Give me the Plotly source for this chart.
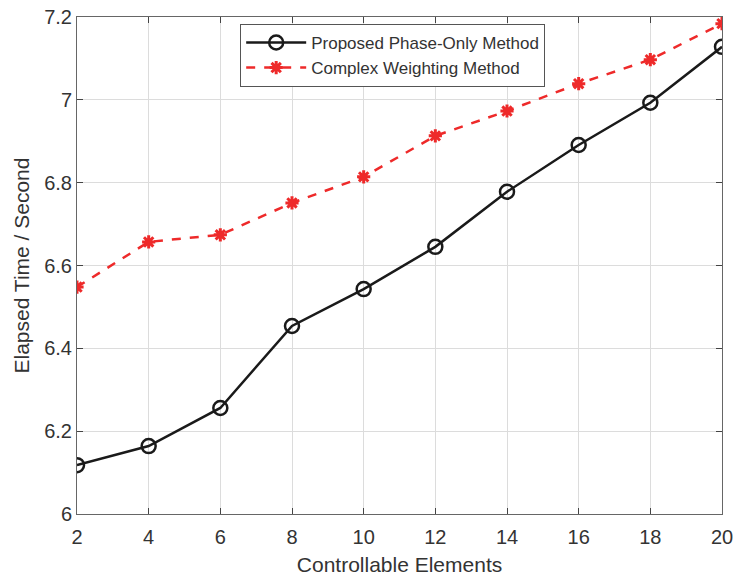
import plotly.graph_objects as go

elements = [2, 4, 6, 8, 10, 12, 14, 16, 18, 20]
phase_only = [6.118, 6.164, 6.256, 6.454, 6.543, 6.645, 6.778, 6.891, 6.993, 7.128]
complex_w = [6.548, 6.657, 6.674, 6.751, 6.814, 6.913, 6.973, 7.039, 7.097, 7.184]
y_ticks = [6, 6.2, 6.4, 6.6, 6.8, 7, 7.2]
y_labels = ["6", "6.2", "6.4", "6.6", "6.8", "7", "7.2"]
x_ticks = [2, 4, 6, 8, 10, 12, 14, 16, 18, 20]

fig = go.Figure()
fig.add_trace(go.Scatter(
    x=elements, y=phase_only, mode="lines+markers",
    name="Proposed Phase-Only Method",
    line=dict(color="#1a1a1a", width=2.5),
    marker=dict(symbol="circle-open", size=14, color="#1a1a1a", line=dict(width=2.5)),
))
fig.add_trace(go.Scatter(
    x=elements, y=complex_w, mode="lines+markers",
    name="Complex Weighting Method",
    line=dict(color="#ee2a2a", width=2.5, dash="dash"),
    marker=dict(symbol="asterisk-open", size=11, color="#ee2a2a", line=dict(width=3, color="#ee2a2a")),
))

font_f = "Liberation Sans, Arial"
axis_common = dict(
    showline=True, linecolor="#666666", linewidth=1, mirror="ticks",
    ticks="inside", ticklen=6, tickcolor="#444444",
    showgrid=True, gridcolor="#dcdcdc", gridwidth=1, zeroline=False,
    automargin=False,
    tickfont=dict(family=font_f, size=20, color="#333333"),
)

fig.update_layout(
    width=735, height=580,
    margin=dict(l=77, r=13, t=17, b=66),
    paper_bgcolor="white", plot_bgcolor="white",
    xaxis=dict(range=[2, 20], tickvals=x_ticks, ticklabelstandoff=5,
               title=dict(text="Controllable Elements", standoff=10,
                          font=dict(family=font_f, size=21, color="#333333")),
               **axis_common),
    yaxis=dict(range=[6, 7.2], tickvals=y_ticks, ticktext=y_labels,
               title=dict(text="Elapsed Time / Second", standoff=8,
                          font=dict(family=font_f, size=21, color="#333333")),
               **axis_common),
    legend=dict(x=0.253, y=0.986, xanchor="left", yanchor="top",
                bgcolor="white", bordercolor="#555555", borderwidth=1,
                font=dict(family=font_f, size=17, color="#333333"),
                tracegroupgap=0, itemwidth=60),
    showlegend=True,
)

fig.write_html("out.html")
